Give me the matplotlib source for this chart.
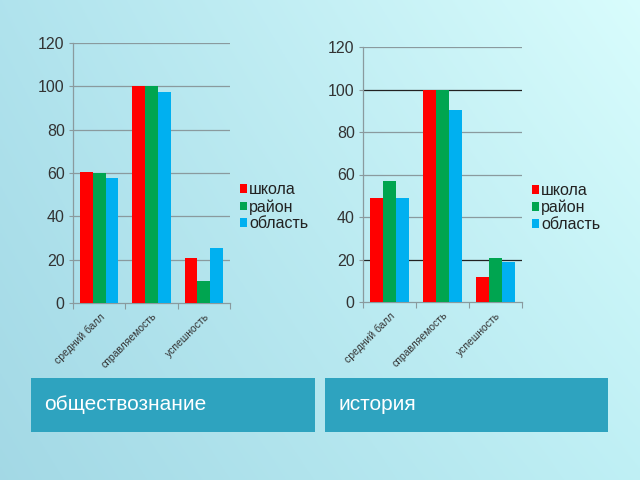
import matplotlib
matplotlib.use("Agg")
import matplotlib.pyplot as plt
from matplotlib.patches import Rectangle
import numpy as np

plt.rcParams['font.family'] = ['Liberation Sans', 'DejaVu Sans']

categories = ["средний балл", "справляемость", "успешность"]
series_names = ["школа", "район", "область"]
colors = ["#ff0000", "#00a550", "#00b0f0"]

# обществознание
social_school = [60.5, 100, 21]
social_district = [60, 100, 10]
social_region = [57.5, 97.5, 25.5]

# история
hist_school = [49, 100, 12]
hist_district = [57, 100, 20.5]
hist_region = [49, 90.5, 19]

titles = ["обществознание", "история"]

W, H = 640, 480
fig = plt.figure(figsize=(6.4, 4.8), dpi=100)

# фон с градиентом
bg = fig.add_axes([0, 0, 1, 1])
xx = np.linspace(0, 1, 256)
yy = np.linspace(0, 1, 256)
X, Y = np.meshgrid(xx, yy)
tl = np.array([0.69, 0.89, 0.93])
tr = np.array([0.85, 0.99, 0.99])
bl = np.array([0.64, 0.85, 0.90])
br = np.array([0.75, 0.94, 0.96])
Xe, Ye = X[..., None], Y[..., None]
img = (tl * (1 - Xe) * (1 - Ye) + tr * Xe * (1 - Ye)
       + bl * (1 - Xe) * Ye + br * Xe * Ye)
bg.imshow(img, extent=[0, 1, 0, 1], aspect="auto", origin="upper")
bg.set_axis_off()


def px_axes(x0, y0, x1, y1):
    return fig.add_axes([x0 / W, 1 - y1 / H, (x1 - x0) / W, (y1 - y0) / H])


def draw_chart(ax, data, dark_lines=()):
    n = len(categories)
    x = np.arange(n)
    bw = 0.245
    for i, vals in enumerate(data):
        ax.bar(x + (i - 1) * bw, vals, width=bw, color=colors[i],
               label=series_names[i], zorder=3)
    ax.set_xlim(-0.5, n - 0.5)
    ax.set_ylim(0, 120)
    ax.set_yticks(range(0, 121, 20))
    ax.set_facecolor("none")
    for v in range(20, 121, 20):
        col = "#222222" if v in dark_lines else "#8a9a9e"
        ax.axhline(v, color=col, lw=0.9, zorder=1)
    for s in ["top", "right"]:
        ax.spines[s].set_visible(False)
    for s in ["left", "bottom"]:
        ax.spines[s].set_color("#8a9a9e")
        ax.spines[s].set_linewidth(0.9)
    ax.set_xticks(np.arange(n + 1) - 0.5, minor=False)
    ax.set_xticklabels([])
    ax.set_xticks(x, minor=True)
    ax.set_xticklabels(categories, minor=True, rotation=45, ha="right",
                       rotation_mode="anchor", fontsize=7.5, color="#333333")
    ax.tick_params(axis="x", which="major", length=4, color="#8a9a9e")
    ax.tick_params(axis="x", which="minor", length=0, pad=6)
    ax.tick_params(axis="y", length=3, color="#8a9a9e", labelsize=11.5,
                   labelcolor="#333333", pad=3)
    leg = ax.legend(loc="center left", bbox_to_anchor=(1.0, 0.37),
                    frameon=False, fontsize=11.5, handlelength=0.45,
                    handleheight=0.45, handletextpad=0.15, labelspacing=0.1,
                    borderaxespad=0.2)
    for txt in leg.get_texts():
        txt.set_color("#222222")


ax1 = px_axes(73, 43, 230, 303)
draw_chart(ax1, [social_school, social_district, social_region])

ax2 = px_axes(363, 47, 522, 302)
draw_chart(ax2, [hist_school, hist_district, hist_region], dark_lines=(100, 20))

# плашки с названиями
boxes = [(31, 378, 315, 432), (325, 378, 608, 432)]
for (x0, y0, x1, y1), title in zip(boxes, titles):
    bg.add_patch(Rectangle((x0 / W, 1 - y1 / H), (x1 - x0) / W, (y1 - y0) / H,
                           facecolor="#2ea3bf", edgecolor="none",
                           transform=bg.transAxes, zorder=5))
    bg.text((x0 + 13) / W, 1 - ((y0 + y1) / 2) / H, title, color="white",
            fontsize=15, va="center", ha="left", transform=bg.transAxes,
            zorder=6)

fig.savefig("out.png", dpi=100)
